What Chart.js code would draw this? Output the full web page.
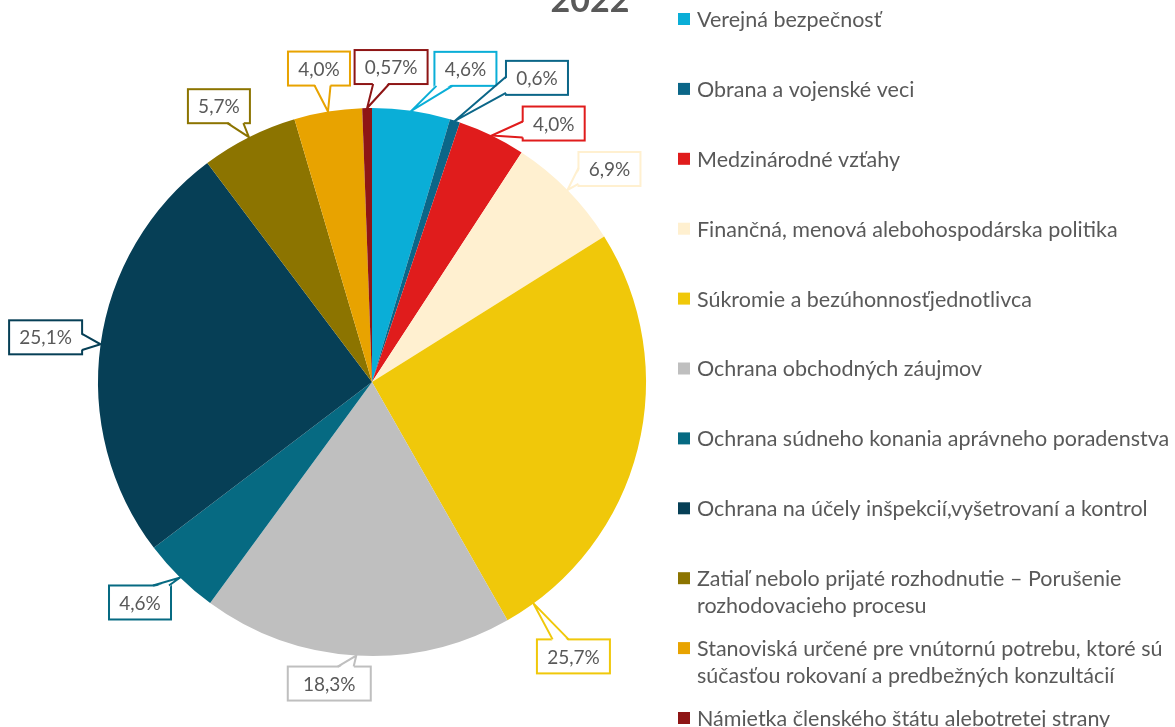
<!DOCTYPE html>
<html>
<head>
<meta charset="utf-8">
<script src="https://cdn.jsdelivr.net/npm/chart.js@4.4.1/dist/chart.umd.min.js"></script>
<style>
html,body{margin:0;padding:0;background:#fff;}
#wrap{width:1175px;height:727px;position:relative;}
</style>
</head>
<body>
<div id="wrap"><canvas id="c" width="1175" height="727"></canvas></div>
<script>
// ---- data ----
const title = "2022";
const categories = [
  "Verejná bezpečnosť",
  "Obrana a vojenské veci",
  "Medzinárodné vzťahy",
  "Finančná, menová alebohospodárska politika",
  "Súkromie a bezúhonnosťjednotlivca",
  "Ochrana obchodných záujmov",
  "Ochrana súdneho konania aprávneho poradenstva",
  "Ochrana na účely inšpekcií,vyšetrovaní a kontrol",
  "Zatiaľ nebolo prijaté rozhodnutie – Porušenie rozhodovacieho procesu",
  "Stanoviská určené pre vnútornú potrebu, ktoré sú súčasťou rokovaní a predbežných konzultácií",
  "Námietka členského štátu alebotretej strany"
];
const shares = [4.6, 0.6, 4.0, 6.9, 25.7, 18.3, 4.6, 25.1, 5.7, 4.0, 0.57];

// ---- styles ----
const colors = ["#0AAED7","#0B6688","#E01C1C","#FFF0D0","#F0C80A","#BFBFBF","#066A82","#063F56","#8C7400","#E8A300","#8E1515"];
// callout placement: offset of box centre from the anchor on the rim, and anchor position within slice
const calloutLayout = [
  {dx:54, dy:-42}, {dx:82, dy:-43}, {dx:62, dy:-12}, {dx:42, dy:-21},
  {dx:40, dy:53, frac:0.93}, {dx:-27, dy:28, w:83}, {dx:-40, dy:25}, {dx:-55, dy:-7},
  {dx:-30, dy:-31}, {dx:-9, dy:-43}, {dx:24, dy:-41}
];
const FONT = "Lato, 'Open Sans', sans-serif";
const TEXT = "#595959";

function fmt(v){
  const one = Math.abs(Math.round(v*10) - v*10) < 1e-6;
  return v.toFixed(one ? 1 : 2).replace('.', ',');
}

const overlay = {
  id: 'overlay',
  afterDraw(chart){
    const ctx = chart.ctx;
    const meta = chart.getDatasetMeta(0);
    // title
    ctx.save();
    ctx.fillStyle = TEXT;
    ctx.font = "bold 34px " + FONT;
    ctx.textAlign = "center";
    ctx.textBaseline = "alphabetic";
    ctx.fillText(title, 590, 12);
    ctx.restore();

    // callouts
    meta.data.forEach((arc, i) => {
      const p = arc.getProps(['x','y','startAngle','endAngle','outerRadius'], true);
      const L = calloutLayout[i];
      const f = L.frac !== undefined ? L.frac : 0.5;
      const a = p.startAngle + (p.endAngle - p.startAngle) * f;
      const tx = p.x + Math.cos(a) * p.outerRadius;
      const ty = p.y + Math.sin(a) * p.outerRadius;
      const txt = fmt(shares[i]) + "%";
      ctx.save();
      ctx.font = "19px " + FONT;
      const tw = ctx.measureText(txt).width;
      const w = L.w || Math.round(tw + 20);
      const h = 34;
      const cx = tx + L.dx, cy = ty + L.dy;
      const x0 = cx - w/2, y0 = cy - h/2, x1 = cx + w/2, y1 = cy + h/2;
      ctx.lineWidth = 2;
      ctx.strokeStyle = colors[i];
      ctx.fillStyle = "#fff";
      ctx.fillRect(x0, y0, w, h);
      ctx.strokeRect(x0, y0, w, h);
      // wedge
      const ddx = tx - cx, ddy = ty - cy;
      const sx = (w/2) / Math.max(Math.abs(ddx), 1e-6);
      const sy = (h/2) / Math.max(Math.abs(ddy), 1e-6);
      const half = 8;
      let b1, b2, in1, in2;
      if (sx < sy) {
        const ex = ddx > 0 ? x1 : x0;
        let my = cy + ddy * sx;
        my = Math.min(Math.max(my, y0 + half + 2), y1 - half - 2);
        const inset = ddx > 0 ? -2 : 2;
        b1 = [ex, my - half]; b2 = [ex, my + half];
        in1 = [ex + inset, my - half]; in2 = [ex + inset, my + half];
      } else {
        const ey = ddy > 0 ? y1 : y0;
        let mx = cx + ddx * sy;
        mx = Math.min(Math.max(mx, x0 + half + 2), x1 - half - 2);
        const inset = ddy > 0 ? -2 : 2;
        b1 = [mx - half, ey]; b2 = [mx + half, ey];
        in1 = [mx - half, ey + inset]; in2 = [mx + half, ey + inset];
      }
      ctx.beginPath();
      ctx.moveTo(in1[0], in1[1]);
      ctx.lineTo(tx, ty);
      ctx.lineTo(in2[0], in2[1]);
      ctx.closePath();
      ctx.fillStyle = "#fff";
      ctx.fill();
      ctx.beginPath();
      ctx.moveTo(b1[0], b1[1]);
      ctx.lineTo(tx, ty);
      ctx.lineTo(b2[0], b2[1]);
      ctx.lineJoin = "miter";
      ctx.stroke();
      ctx.fillStyle = TEXT;
      ctx.textAlign = "center";
      ctx.textBaseline = "middle";
      ctx.fillText(txt, cx, cy + 1);
      ctx.restore();
    });

    // legend
    ctx.save();
    ctx.font = "21.5px " + FONT;
    ctx.textBaseline = "middle";
    ctx.textAlign = "left";
    const lx = 678, textX = 697, maxW = 1175 - textX - 1;
    categories.forEach((lab, i) => {
      const y = 19 + i * 69.9;
      ctx.fillStyle = colors[i];
      ctx.fillRect(lx, y - 6, 12, 12);
      ctx.fillStyle = TEXT;
      // wrap
      const words = lab.split(' ');
      const lines = [];
      let cur = '';
      words.forEach(wd => {
        const test = cur ? cur + ' ' + wd : wd;
        if (ctx.measureText(test).width > maxW && cur) { lines.push(cur); cur = wd; }
        else cur = test;
      });
      if (cur) lines.push(cur);
      lines.forEach((ln, k) => ctx.fillText(ln, textX, y + 1 + k * 27));
    });
    ctx.restore();
  }
};

new Chart(document.getElementById('c'), {
  type: 'pie',
  data: {
    labels: categories,
    datasets: [{
      data: shares,
      backgroundColor: colors,
      borderWidth: 0
    }]
  },
  options: {
    responsive: false,
    animation: false,
    layout: { padding: { left: 98, right: 529, top: 108, bottom: 71 } },
    plugins: {
      legend: { display: false },
      tooltip: { enabled: false },
      title: { display: false }
    }
  },
  plugins: [overlay]
});
</script>
</body>
</html>
